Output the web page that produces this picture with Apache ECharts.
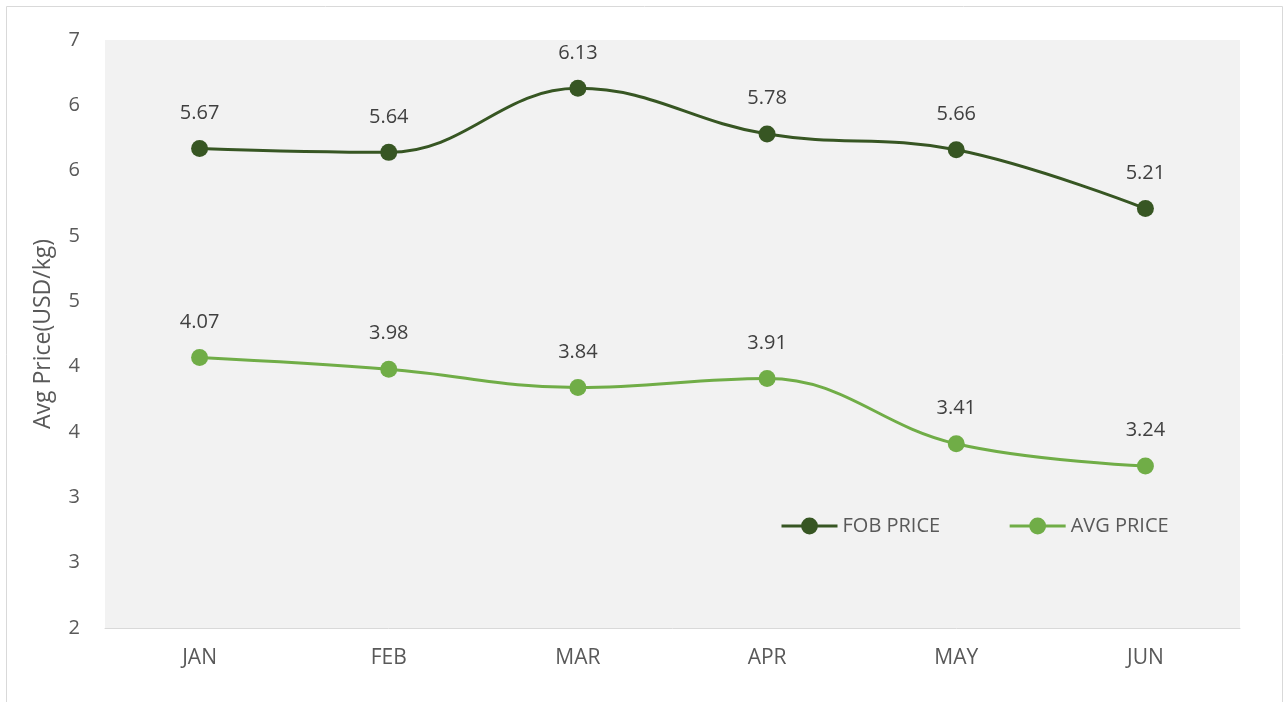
<!DOCTYPE html>
<html>
<head>
<meta charset="utf-8">
<script src="https://cdn.jsdelivr.net/npm/echarts@6/dist/echarts.min.js"></script>
<style>
  html, body { margin: 0; padding: 0; background: #fff; }
  #price-chart { width: 1284px; height: 702px; }
</style>
</head>
<body>
<div id="price-chart"></div>
<script>
const months = ['JAN', 'FEB', 'MAR', 'APR', 'MAY', 'JUN'];
const fobPrice = [5.67, 5.64, 6.13, 5.78, 5.66, 5.21];
const avgPrice = [4.07, 3.98, 3.84, 3.91, 3.41, 3.24];
const seriesNames = ['FOB PRICE', 'AVG PRICE'];

const chart = echarts.init(document.getElementById('price-chart'));
const font = 'Open Sans';

function lineSeries(name, data, color) {
  return {
    name: name,
    type: 'line',
    smooth: 0.4,
    data: data,
    symbol: 'circle',
    symbolSize: 17,
    lineStyle: { width: 3, color: color },
    itemStyle: { color: color },
    label: {
      show: true,
      position: 'top',
      distance: 17,
      color: '#404040',
      fontFamily: font,
      fontSize: 20,
      formatter: p => p.value.toFixed(2)
    }
  };
}

chart.setOption({
  animation: false,
  graphic: [{
    type: 'rect',
    shape: { x: 6.5, y: 6.5, width: 1276, height: 710 },
    style: { fill: 'none', stroke: '#d9d9d9', lineWidth: 1 },
    silent: true
  }],
  grid: {
    left: 105,
    right: 44,
    top: 40,
    bottom: 74,
    show: true,
    backgroundColor: '#f2f2f2',
    borderWidth: 0
  },
  legend: {
    data: seriesNames,
    left: 775,
    top: 511,
    itemWidth: 56,
    itemHeight: 21,
    itemGap: 68,
    lineStyle: { width: 3 },
    textStyle: { color: '#595959', fontFamily: font, fontSize: 20 }
  },
  xAxis: {
    type: 'category',
    data: months,
    boundaryGap: true,
    axisLine: { lineStyle: { color: '#d9d9d9', width: 1 } },
    axisTick: { show: false },
    axisLabel: { color: '#595959', fontFamily: font, fontSize: 21, margin: 20 }
  },
  yAxis: {
    type: 'value',
    min: 2,
    max: 6.5,
    interval: 0.5,
    name: 'Avg Price(USD/kg)',
    nameLocation: 'middle',
    nameGap: 50,
    nameTextStyle: { color: '#595959', fontFamily: font, fontSize: 23 },
    splitLine: { show: false },
    axisLine: { show: false },
    axisTick: { show: false },
    axisLabel: {
      color: '#595959',
      fontFamily: font,
      fontSize: 20,
      margin: 25,
      formatter: v => String(Math.round(v))
    }
  },
  series: [
    lineSeries(seriesNames[0], fobPrice, '#375623'),
    lineSeries(seriesNames[1], avgPrice, '#70ad47')
  ]
});
</script>
</body>
</html>
